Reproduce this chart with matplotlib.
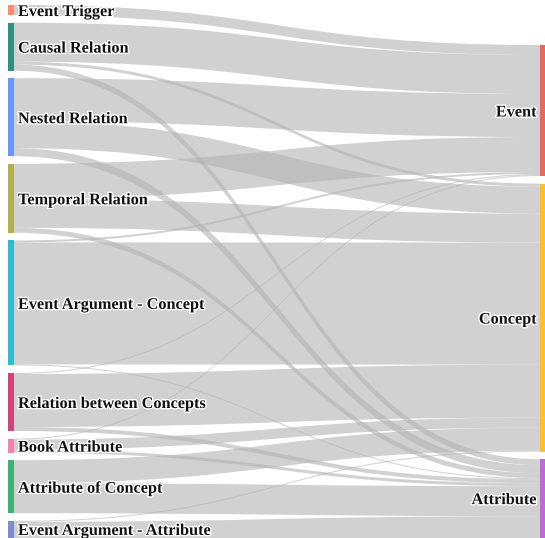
import matplotlib
matplotlib.use("Agg")
import matplotlib.pyplot as plt
from matplotlib.path import Path
from matplotlib.patches import PathPatch, Rectangle
import matplotlib.patheffects as pe

# ---------------- data ----------------
sources = ["Event Trigger", "Causal Relation", "Nested Relation", "Temporal Relation",
           "Event Argument - Concept", "Relation between Concepts", "Book Attribute",
           "Attribute of Concept", "Event Argument - Attribute"]
targets = ["Event", "Concept", "Attribute"]

to_event = [10, 39, 43, 35, 2, 1, 1, 0, 0]
to_concept = [0, 3, 27, 29, 122, 53, 10, 23, 1]
to_attribute = [0, 6, 8, 5, 1, 4, 3, 30, 22]

source_colors = ["#FF8C69", "#2E9080", "#6699FF", "#B0B04E", "#2FBCD0",
                 "#D04479", "#F582A8", "#3DB374", "#7F8BD0"]
target_colors = ["#E8675E", "#FBC12C", "#BB6BD2"]

# ---------------- layout ----------------
W, H = 545, 538
fig = plt.figure(figsize=(W / 100, H / 100), dpi=100)
ax = fig.add_axes([0, 0, 1, 1])
ax.set_xlim(0, W)
ax.set_ylim(H, 0)
ax.axis("off")

flows = [to_event, to_concept, to_attribute]
n_src = len(sources)
n_tgt = len(targets)
src_tot = [sum(flows[t][s] for t in range(n_tgt)) for s in range(n_src)]
tgt_tot = [sum(flows[t]) for t in range(n_tgt)]

gap = 7.6
left_top = 5.0
right_top = 45.0
ky = 1.0
node_w = 6.0
xl0, xl1 = 7.5, 13.5
xr0 = 540.0

src_y = []
y = left_top
for v in src_tot:
    src_y.append(y)
    y += v * ky + gap
tgt_y = []
y = right_top
for v in tgt_tot:
    tgt_y.append(y)
    y += v * ky + gap

link_color = (0.70, 0.70, 0.70, 0.6)
xm = (xl1 + xr0) / 2

src_off = list(src_y)
tgt_off = list(tgt_y)
links = []
for s in range(n_src):
    for t in range(n_tgt):
        v = flows[t][s]
        if v <= 0:
            continue
        sy0 = src_off[s]
        src_off[s] += v * ky
        links.append([s, t, v, sy0, None])
for t in range(n_tgt):
    for L in links:
        if L[1] == t:
            L[4] = tgt_off[t]
            tgt_off[t] += L[2] * ky

for s, t, v, sy0, ty0 in links:
    h = v * ky
    sy1, ty1 = sy0 + h, ty0 + h
    verts = [(xl1, sy0), (xm, sy0), (xm, ty0), (xr0, ty0),
             (xr0, ty1), (xm, ty1), (xm, sy1), (xl1, sy1), (xl1, sy0)]
    codes = [Path.MOVETO, Path.CURVE4, Path.CURVE4, Path.CURVE4,
             Path.LINETO, Path.CURVE4, Path.CURVE4, Path.CURVE4, Path.CLOSEPOLY]
    ax.add_patch(PathPatch(Path(verts, codes), facecolor=link_color,
                           edgecolor="none", zorder=1))

font = dict(family="Liberation Serif", weight="bold", size=11.7, color="#111111")
halo = [pe.withStroke(linewidth=2, foreground="white")]
dy = 2.0


def label_y(top, h):
    bottom = min(top + h, H - 1)
    return (top + bottom) / 2 + dy


for s in range(n_src):
    h = src_tot[s] * ky
    ax.add_patch(Rectangle((xl0, src_y[s]), node_w, h, facecolor=source_colors[s],
                           edgecolor="none", zorder=3))
    ax.text(xl1 + 4.5, label_y(src_y[s], h), sources[s], ha="left", va="center",
            path_effects=halo, zorder=4, **font)

for t in range(n_tgt):
    h = tgt_tot[t] * ky
    ax.add_patch(Rectangle((xr0, tgt_y[t]), node_w, h, facecolor=target_colors[t],
                           edgecolor="none", zorder=3))
    ax.text(xr0 - 3.5, label_y(tgt_y[t], h), targets[t], ha="right", va="center",
            path_effects=halo, zorder=4, **font)

fig.savefig("out.png", dpi=100)
